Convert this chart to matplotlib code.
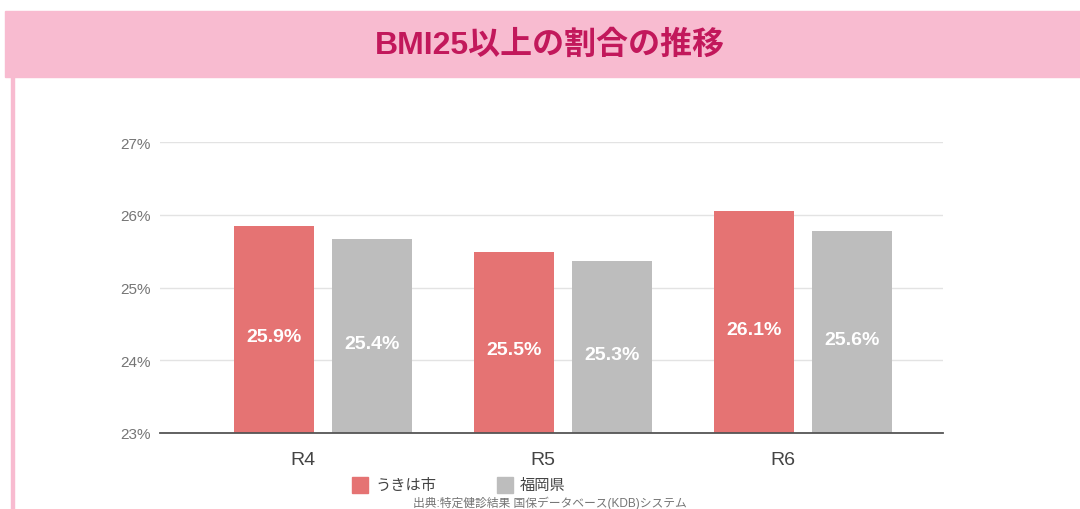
import matplotlib
matplotlib.use("Agg")
import matplotlib.pyplot as plt
import numpy as np
from matplotlib.patches import Rectangle

plt.rcParams['font.family'] = ['Liberation Sans', 'Noto Sans CJK JP', 'DejaVu Sans']

# data
years = ['R4', 'R5', 'R6']
series_names = ['うきは市', '福岡県']
ukiha = [25.85, 25.49, 26.05]
fukuoka = [25.66, 25.37, 25.77]
ukiha_labels = ['25.9%', '25.5%', '26.1%']
fukuoka_labels = ['25.4%', '25.3%', '25.6%']
y_ticks = [23, 24, 25, 26, 27]

title = 'BMI25以上の割合の推移'
source = '出典:特定健診結果 国保データベース(KDB)システム'

RED = '#E57373'
GRAY = '#BDBDBD'
PINK = '#F8BBD0'
TITLE_COLOR = '#C2185B'

W, H = 1080, 510
fig = plt.figure(figsize=(W / 100, H / 100), dpi=100)

# title band and left border
fig.patches.append(Rectangle((5 / W, 1 - 78 / H), 1 - 5 / W, 66 / H,
                             transform=fig.transFigure, color=PINK, zorder=0))
fig.patches.append(Rectangle((11 / W, 0), 2.5 / W, 1 - 78 / H,
                             transform=fig.transFigure, color=PINK, zorder=0))
fig.text(550 / W, 1 - 46 / H, title, ha='center', va='center',
         fontsize=23, fontweight='bold', color=TITLE_COLOR)

# plot area: x 160..943, y 143..434 px
ax = fig.add_axes([160 / W, 1 - 434 / H, 783 / W, 291 / H])
x = np.arange(len(years))
width = 0.33
off = 0.204
bars1 = ax.bar(x - off, np.array(ukiha) - 23, width, bottom=23, color=RED, zorder=2)
bars2 = ax.bar(x + off, np.array(fukuoka) - 23, width, bottom=23, color=GRAY, zorder=2)

for bars, labels in ((bars1, ukiha_labels), (bars2, fukuoka_labels)):
    for b, lab in zip(bars, labels):
        mid = b.get_y() + b.get_height() / 2 - 0.1
        ax.text(b.get_x() + b.get_width() / 2, mid, lab, ha='center', va='center',
                color='white', fontsize=14, fontweight='bold', zorder=3)

ax.set_xlim(-0.679, 2.583)
ax.set_ylim(23, 27)
ax.set_yticks(y_ticks)
ax.set_yticklabels([f'{t}%' for t in y_ticks])
ax.set_xticks(x - 0.083)
ax.set_xticklabels(years)
ax.tick_params(axis='y', length=0, pad=7, labelsize=11, labelcolor='#757575')
ax.tick_params(axis='x', length=0, pad=13, labelsize=14, labelcolor='#444444')
ax.grid(axis='y', color='#E3E3E3', linewidth=1, zorder=0)
for s in ['top', 'right', 'left']:
    ax.spines[s].set_visible(False)
ax.spines['bottom'].set_color('#555555')
ax.spines['bottom'].set_linewidth(1.3)
ax.spines['bottom'].set_zorder(4)

# legend
for px, col, name in ((352, RED, series_names[0]), (497, GRAY, series_names[1])):
    fig.patches.append(Rectangle((px / W, 1 - 494 / H), 16 / W, 16 / H,
                                 transform=fig.transFigure, color=col))
    fig.text((px + 23) / W, 1 - 486 / H, name, ha='left', va='center',
             fontsize=11, color='#444444')

fig.text(550 / W, 1 - 503 / H, source, ha='center', va='center',
         fontsize=8.5, color='#757575')

fig.savefig('out.png', dpi=100)
